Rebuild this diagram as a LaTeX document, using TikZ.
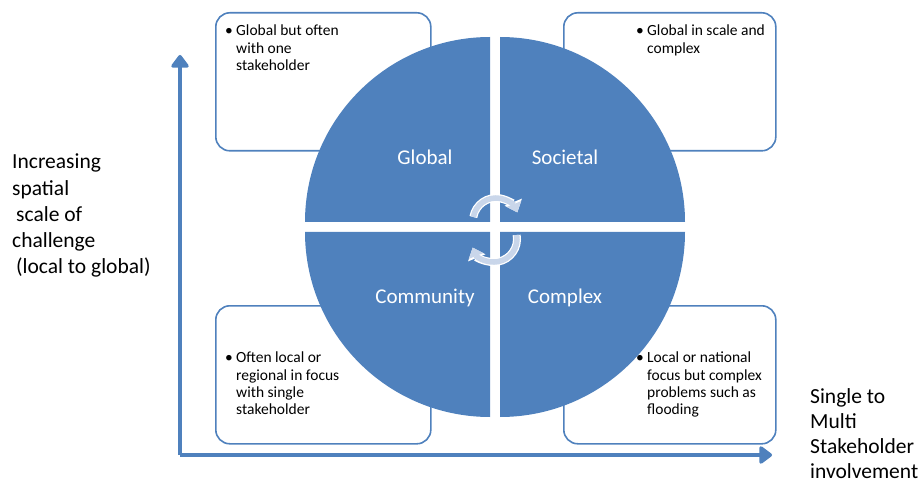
\documentclass[tikz,border=0pt]{standalone}
\usepackage{fontspec}
\setmainfont{Carlito}
\usetikzlibrary{arrows.meta}
\definecolor{mblue}{HTML}{4F81BD}
\definecolor{lblue}{HTML}{C9D6EA}
\newcommand{\bul}{\makebox[11pt][l]{\textbullet}}
\newcommand{\ind}{\hspace*{11pt}}
\begin{document}
\begin{tikzpicture}[x=1pt,y=-1pt,
  infobox/.style={draw=mblue,line width=1.6pt,rounded corners=14pt,fill=white},
  quad/.style={fill=mblue},
  qlabel/.style={text=white,font=\fontsize{21}{24}\selectfont},
  btext/.style={anchor=north west,align=left,inner sep=0pt,font=\fontsize{15.5}{17.2}\selectfont},
  axis/.style={draw=mblue,line width=4.5pt,-{Triangle[length=14pt,width=20pt,round]}},
  side/.style={anchor=north west,align=left,inner sep=0pt,font=\fontsize{21.5}{26.2}\selectfont},
  cyc/.style={draw=lblue,line width=5.5pt,-{Triangle[length=9pt,width=15pt]},
     preaction={draw=white,line width=8pt,-{Triangle[length=11pt,width=18pt]}}}]
\useasboundingbox (0,0) rectangle (922,484);
% boxes
\node[infobox,minimum width=215pt,minimum height=138pt,anchor=north west] (b1) at (215,12) {};
\node[infobox,minimum width=212pt,minimum height=138pt,anchor=north west] (b2) at (563,12) {};
\node[infobox,minimum width=215pt,minimum height=138pt,anchor=north west] (b3) at (215,305) {};
\node[infobox,minimum width=212pt,minimum height=138pt,anchor=north west] (b4) at (563,305) {};
% box texts
\node[btext] (t1) at (225,25) {\bul Global but often\\\ind with one\\\ind stakeholder};
\node[btext] (t2) at (636,25) {\bul Global in scale and\\\ind complex};
\node[btext] (t3) at (225,352) {\bul Often local or\\\ind regional in focus\\\ind with single\\\ind stakeholder};
\node[btext] (t4) at (636,352) {\bul Local or national\\\ind focus but complex\\\ind problems such as\\\ind flooding};
% quadrants
\fill[quad] (490,222) -- ++(180:185) arc[start angle=180,end angle=270,radius=185] -- cycle;
\fill[quad] (500,222) -- ++(270:185) arc[start angle=270,end angle=360,radius=185] -- cycle;
\fill[quad] (500,232) -- ++(0:185) arc[start angle=0,end angle=90,radius=185] -- cycle;
\fill[quad] (490,232) -- ++(90:185) arc[start angle=90,end angle=180,radius=185] -- cycle;
% labels
\node[qlabel] (q1) at (425,157) {Global};
\node[qlabel] (q2) at (565,157) {Societal};
\node[qlabel] (q3) at (425,298) {Community};
\node[qlabel] (q4) at (565,298) {Complex};
% cycle arrows
\draw[cyc] (496,221) ++(190:23) arc[start angle=190,end angle=338,radius=23];
\draw[cyc] (494,239) ++(-10:23) arc[start angle=-10,end angle=158,radius=23];
% axes
\coordinate (o) at (180,455);
\coordinate (ytop) at (180,55);
\coordinate (xend) at (772,455);
\draw[axis] (o) -- (ytop);
\draw[axis] (o) -- (xend);
% side texts
\node[side] (lt) at (12,154) {Increasing\\spatial\\\hspace*{4pt}scale of\\challenge\\\hspace*{4pt}(local to global)};
\node[side,font=\fontsize{21.5}{25}\selectfont] (rt) at (810,388) {Single to\\Multi\\Stakeholder\\involvement};
\end{tikzpicture}
\end{document}
